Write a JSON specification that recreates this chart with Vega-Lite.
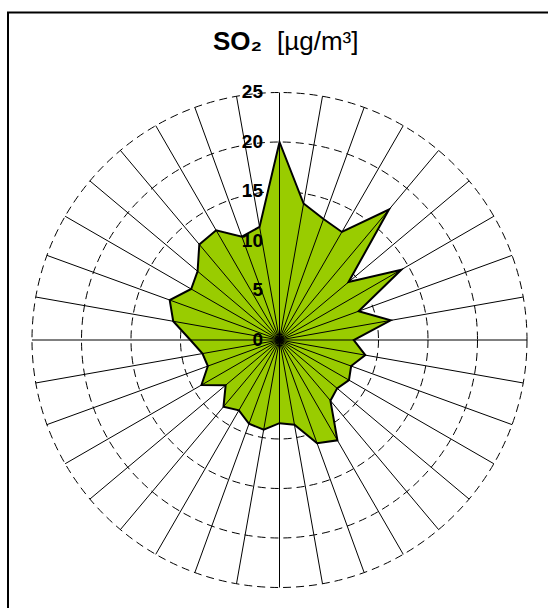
{
  "$schema": "https://vega.github.io/schema/vega-lite/v6.json",
  "autosize": {"type": "none"},
  "padding": {"left": 8, "top": 12.5, "right": 0, "bottom": 0},
  "width": 543,
  "height": 655,
  "background": "white",
  "config": {"view": {"stroke": "black", "strokeWidth": 2}},
  "title": {
    "text": "SO₂",
    "subtitle": "[µg/m³]",
    "anchor": "start",
    "frame": "group",
    "dx": 269,
    "offset": -63.5,
    "baseline": "alphabetic",
    "font": "Liberation Sans",
    "fontSize": 26,
    "fontWeight": "bold",
    "color": "black",
    "subtitleFont": "Liberation Sans",
    "subtitleFontSize": 26,
    "subtitleFontWeight": "normal",
    "subtitleColor": "black",
    "subtitlePadding": -26,
    "encoding": {"dx": {"value": 205}}
  },
  "datasets": {
    "rings": [{"r": 0}, {"r": 5}, {"r": 10}, {"r": 15}, {"r": 20}, {"r": 25}],
    "so2": [
      {"dir": 0, "so2": 20.0}, {"dir": 10, "so2": 14.0}, {"dir": 20, "so2": 13.0},
      {"dir": 30, "so2": 12.6}, {"dir": 40, "so2": 17.2}, {"dir": 50, "so2": 9.1},
      {"dir": 60, "so2": 14.2}, {"dir": 70, "so2": 8.5}, {"dir": 80, "so2": 11.4},
      {"dir": 90, "so2": 7.5}, {"dir": 100, "so2": 8.8}, {"dir": 110, "so2": 7.7},
      {"dir": 120, "so2": 8.1}, {"dir": 130, "so2": 7.6}, {"dir": 140, "so2": 8.0},
      {"dir": 150, "so2": 11.7}, {"dir": 160, "so2": 11.1}, {"dir": 170, "so2": 8.7},
      {"dir": 180, "so2": 8.4}, {"dir": 190, "so2": 9.2}, {"dir": 200, "so2": 9.0},
      {"dir": 210, "so2": 8.2}, {"dir": 220, "so2": 8.8}, {"dir": 230, "so2": 7.1},
      {"dir": 240, "so2": 9.1}, {"dir": 250, "so2": 7.7}, {"dir": 260, "so2": 7.9},
      {"dir": 270, "so2": 9.0}, {"dir": 280, "so2": 10.9}, {"dir": 290, "so2": 11.8},
      {"dir": 300, "so2": 10.3}, {"dir": 310, "so2": 10.8}, {"dir": 320, "so2": 12.6},
      {"dir": 330, "so2": 12.8}, {"dir": 340, "so2": 11.1}, {"dir": 350, "so2": 11.6}
    ]
  },
  "layer": [
    {
      "data": {"name": "rings"},
      "transform": [{"filter": "datum.r > 0"}],
      "mark": {
        "type": "point",
        "shape": "circle",
        "filled": false,
        "stroke": "black",
        "strokeWidth": 1,
        "strokeDash": [8, 5],
        "opacity": 1
      },
      "encoding": {
        "x": {"datum": 0, "type": "quantitative", "scale": {"domain": [-27.42, 27.42], "nice": false, "zero": false}, "axis": null},
        "y": {"datum": 0, "type": "quantitative", "scale": {"domain": [-33.08, 33.08], "nice": false, "zero": false}, "axis": null},
        "size": {
          "field": "r",
          "type": "quantitative",
          "scale": {"type": "pow", "exponent": 2, "domain": [0, 25], "range": [0, 245025], "zero": true},
          "legend": null
        }
      }
    },
    {
      "data": {"name": "so2"},
      "transform": [
        {"calculate": "datum.so2 * sin(datum.dir * PI / 180)", "as": "x"},
        {"calculate": "datum.so2 * cos(datum.dir * PI / 180)", "as": "y"}
      ],
      "mark": {
        "type": "line",
        "interpolate": "linear-closed",
        "fill": "#99CC00",
        "stroke": "black",
        "strokeWidth": 2,
        "strokeJoin": "miter"
      },
      "encoding": {
        "x": {"field": "x", "type": "quantitative", "axis": null},
        "y": {"field": "y", "type": "quantitative", "axis": null},
        "order": {"field": "dir", "type": "quantitative"}
      }
    },
    {
      "data": {"name": "so2"},
      "transform": [
        {"calculate": "25 * sin(datum.dir * PI / 180)", "as": "sx"},
        {"calculate": "25 * cos(datum.dir * PI / 180)", "as": "sy"}
      ],
      "mark": {"type": "rule", "stroke": "black", "strokeWidth": 1},
      "encoding": {
        "x": {"field": "sx", "type": "quantitative", "axis": null},
        "y": {"field": "sy", "type": "quantitative", "axis": null},
        "x2": {"datum": 0},
        "y2": {"datum": 0}
      }
    },
    {
      "data": {"name": "rings"},
      "mark": {
        "type": "text",
        "align": "right",
        "baseline": "middle",
        "dx": -16.5,
        "font": "Liberation Sans",
        "fontSize": 19,
        "fontWeight": "bold",
        "color": "black"
      },
      "encoding": {
        "x": {"datum": 0, "type": "quantitative", "axis": null},
        "y": {"field": "r", "type": "quantitative", "axis": null},
        "text": {"field": "r", "type": "quantitative"}
      }
    }
  ]
}
